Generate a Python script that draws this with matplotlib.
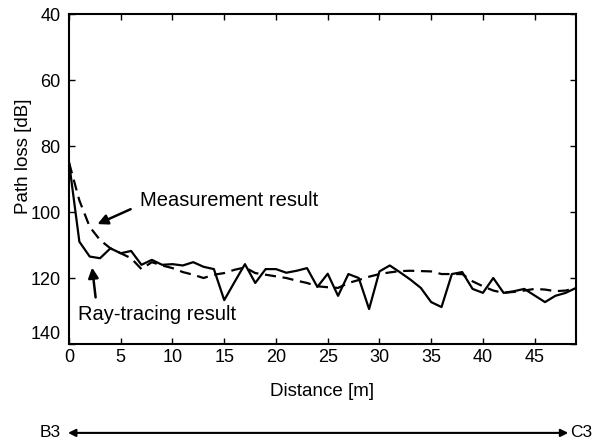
import matplotlib.pyplot as plt
from matplotlib.patches import FancyArrowPatch
from matplotlib.transforms import ScaledTranslation

plt.rcParams['font.family'] = ['Liberation Sans', 'DejaVu Sans']

# distance [m]
distance = list(range(0, 50))

# ray-tracing result (solid)
ray_tracing = [85, 109, 113.5, 114, 111, 112.5, 111.8, 116, 114.5, 116,
               115.8, 116.2, 115.2, 116.6, 117.3, 126.7, 121.2, 115.8, 121.5, 117.3,
               117.3, 118.4, 117.8, 117, 122.7, 118.7, 125.4, 118.8, 120, 129.4,
               118, 116.2, 118.3, 120.5, 123, 127.3, 128.8, 118.8, 118.2, 123.3,
               124.5, 120, 124.5, 124, 123.3, 125.3, 127.3, 125.4, 124.5, 123]

# measurement result (dashed)
measurement = [85, 96.5, 104.5, 108.5, 111, 112.5, 114, 117.3, 115.2, 116.2,
               117, 118.2, 119, 120, 119, 118.5, 117.5, 116.8, 118.5, 119,
               119.5, 120, 120.8, 121.5, 122.5, 122.8, 123, 121.5, 120.6, 119.6,
               118.8, 118.3, 117.9, 117.8, 117.9, 118, 118.8, 118.8, 118.8, 121,
               122.5, 123.8, 124.5, 124.2, 123.8, 123.3, 123.5, 124, 123.8, 123]

fig = plt.figure(figsize=(5.93, 4.44), dpi=100)
ax = fig.add_axes([0.1164, 0.2252, 0.855, 0.7432])

ax.plot(distance, ray_tracing, color='black', linewidth=1.6)
ax.plot(distance, measurement, color='black', linewidth=1.6, linestyle=(0, (5, 3)))

ax.set_xlim(0, 49)
ax.set_ylim(140, 40)
ax.set_xticks(range(0, 50, 5))
ax.set_yticks(range(40, 141, 20))
ax.tick_params(direction='in', top=True, right=True, length=4, labelsize=13, width=1)
ax.tick_params(axis='y', pad=6)
for s in ax.spines.values():
    s.set_linewidth(1.5)

# MATLAB-style: lowest y label sits above the corner
lbl = ax.get_yticklabels()[-1]
lbl.set_transform(lbl.get_transform() + ScaledTranslation(0, 0.12, fig.dpi_scale_trans))

ax.set_xlabel('Distance [m]', fontsize=13.5, labelpad=12)
ax.set_ylabel('Path loss [dB]', fontsize=13.5)
ax.yaxis.set_label_coords(-0.073, 0.57)

ax.annotate('', xy=(2.5, 104), xytext=(6.2, 98.8),
            arrowprops=dict(arrowstyle='-|>', color='black', lw=1.8, mutation_scale=15))
ax.text(6.9, 96.4, 'Measurement result', fontsize=14.5, va='center', ha='left')

ax.annotate('', xy=(2.2, 116), xytext=(2.6, 126.7),
            arrowprops=dict(arrowstyle='-|>', color='black', lw=1.8, mutation_scale=15))
ax.text(0.9, 131, 'Ray-tracing result', fontsize=14.5, va='center', ha='left')

# B3 <-> C3 route arrow
fig.text(0.067, 0.025, 'B3', fontsize=12.5, va='center', ha='left')
fig.text(0.999, 0.025, 'C3', fontsize=12.5, va='center', ha='right')
fig.patches.append(FancyArrowPatch(
    (0.11, 0.025), (0.963, 0.025), transform=fig.transFigure,
    arrowstyle='<|-|>', mutation_scale=11, color='black', lw=1.5))

fig.savefig('out.png', dpi=100)
